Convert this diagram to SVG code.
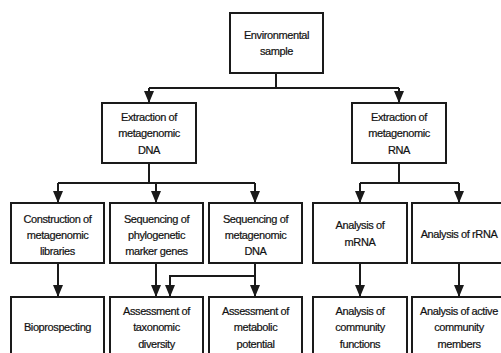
<svg xmlns="http://www.w3.org/2000/svg" width="501" height="353" viewBox="0 0 501 353">
<style>
.box{fill:#fff;stroke:#1a1a1a;stroke-width:2}
.t{font-family:"Liberation Sans",Arial,sans-serif;font-size:11px;letter-spacing:-0.4px;fill:#111;stroke:#111;stroke-width:0.2px;text-anchor:middle}
.c{fill:none;stroke:#1a1a1a;stroke-width:2}
</style>
<defs>
<marker id="ah" markerUnits="userSpaceOnUse" markerWidth="12" markerHeight="10" viewBox="0 0 12 10" refX="12" refY="5" orient="auto">
<path d="M0,0 L12,5 L0,10 Z" fill="#1a1a1a"/>
</marker>
</defs>
<rect width="501" height="353" fill="#fff"/>
<g id="connectors">
<path class="c" d="M276,73 V88 M149,88 H399"/>
<path class="c" d="M149,88 V103" marker-end="url(#ah)"/>
<path class="c" d="M399,88 V103" marker-end="url(#ah)"/>
<path class="c" d="M149,163 V183 M58,183 H255"/>
<path class="c" d="M58,183 V203" marker-end="url(#ah)"/>
<path class="c" d="M156,183 V203" marker-end="url(#ah)"/>
<path class="c" d="M255,183 V203" marker-end="url(#ah)"/>
<path class="c" d="M399,163 V183 M360,183 H459"/>
<path class="c" d="M360,183 V203" marker-end="url(#ah)"/>
<path class="c" d="M459,183 V203" marker-end="url(#ah)"/>
<path class="c" d="M58,263 V297" marker-end="url(#ah)"/>
<path class="c" d="M156,263 V297" marker-end="url(#ah)"/>
<path class="c" d="M255,263 V297" marker-end="url(#ah)"/>
<path class="c" d="M255,276 H170 V297" marker-end="url(#ah)"/>
<path class="c" d="M360,263 V297" marker-end="url(#ah)"/>
<path class="c" d="M459,263 V297" marker-end="url(#ah)"/>
</g>
<g id="env"><rect class="box" x="230" y="13" width="93" height="60"/><text class="t" x="276.5" y="39">Environmental</text><text class="t" x="276.5" y="55">sample</text></g>
<g id="exDNA"><rect class="box" x="102" y="103" width="94" height="60"/><text class="t" x="149" y="121">Extraction of</text><text class="t" x="149" y="137">metagenomic</text><text class="t" x="149" y="154">DNA</text></g>
<g id="exRNA"><rect class="box" x="352" y="103" width="94" height="60"/><text class="t" x="399" y="121">Extraction of</text><text class="t" x="399" y="137">metagenomic</text><text class="t" x="399" y="154">RNA</text></g>
<g id="libs"><rect class="box" x="11" y="203" width="93" height="60"/><text class="t" x="57.5" y="223">Construction of</text><text class="t" x="57.5" y="239">metagenomic</text><text class="t" x="57.5" y="255">libraries</text></g>
<g id="phylo"><rect class="box" x="110" y="203" width="93" height="60"/><text class="t" x="156.5" y="223">Sequencing of</text><text class="t" x="156.5" y="239">phylogenetic</text><text class="t" x="156.5" y="255">marker genes</text></g>
<g id="seqDNA"><rect class="box" x="209" y="203" width="93" height="60"/><text class="t" x="255.5" y="223">Sequencing of</text><text class="t" x="255.5" y="239">metagenomic</text><text class="t" x="255.5" y="255">DNA</text></g>
<g id="mRNA"><rect class="box" x="313" y="203" width="94" height="60"/><text class="t" x="360" y="229">Analysis of</text><text class="t" x="360" y="246">mRNA</text></g>
<g id="rRNA"><rect class="box" x="412" y="203" width="94" height="60"/><text class="t" x="459" y="238">Analysis of rRNA</text></g>
<g id="bio"><rect class="box" x="11" y="297" width="93" height="60"/><text class="t" x="57.5" y="331">Bioprospecting</text></g>
<g id="taxo"><rect class="box" x="110" y="297" width="93" height="60"/><text class="t" x="156.5" y="315">Assessment of</text><text class="t" x="156.5" y="331">taxonomic</text><text class="t" x="156.5" y="348">diversity</text></g>
<g id="meta"><rect class="box" x="209" y="297" width="93" height="60"/><text class="t" x="255.5" y="315">Assessment of</text><text class="t" x="255.5" y="331">metabolic</text><text class="t" x="255.5" y="348">potential</text></g>
<g id="func"><rect class="box" x="313" y="297" width="94" height="60"/><text class="t" x="360" y="315">Analysis of</text><text class="t" x="360" y="331">community</text><text class="t" x="360" y="348">functions</text></g>
<g id="active"><rect class="box" x="412" y="297" width="94" height="60"/><text class="t" x="459" y="315">Analysis of active</text><text class="t" x="459" y="331">community</text><text class="t" x="459" y="348">members</text></g>
</svg>
